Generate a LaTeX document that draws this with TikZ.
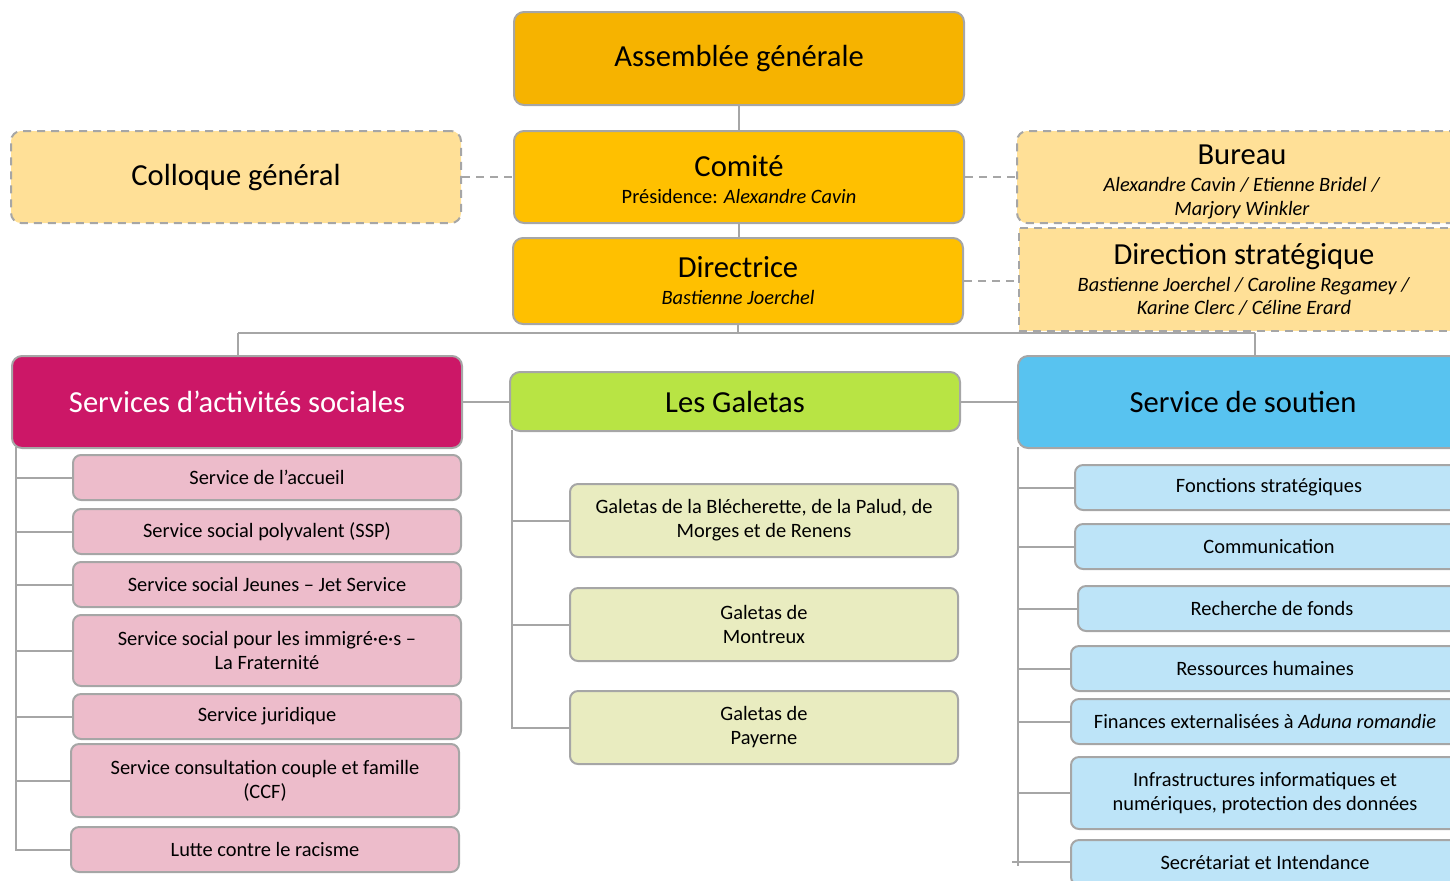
\documentclass[tikz,border=0pt]{standalone}
\usepackage{fontspec}
\setmainfont{Carlito}
\newcommand\orgbig{\fontsize{15.3}{18}\selectfont}
\newcommand\orgsmall{\fontsize{10.2}{12}\selectfont}
\definecolor{lineg}{HTML}{A6A6A6}
\definecolor{cag}{HTML}{F6B300}
\definecolor{ccom}{HTML}{FFC000}
\definecolor{cpale}{HTML}{FFE097}
\definecolor{csas}{HTML}{CC1767}
\definecolor{cgal}{HTML}{B8E444}
\definecolor{csou}{HTML}{58C3F0}
\definecolor{cpink}{HTML}{EDBCCB}
\definecolor{cgreen}{HTML}{E9ECC0}
\definecolor{cblue}{HTML}{BDE4F8}
\tikzset{
  bx/.style 2 args={minimum width=#1*0.5pt, minimum height=#2*0.5pt},
  base/.style={draw=lineg, line width=1pt, rounded corners=5pt, align=center,
    inner sep=0pt, anchor=north west, text=black},
  head/.style={base, font=\orgbig},
  headtwo/.style={base, font=\orgsmall},
  sub/.style={base, font=\orgsmall, rounded corners=4pt},
  dsh/.style={dash pattern=on 4pt off 3pt},
  link/.style={draw=lineg, line width=1pt},
  dlink/.style={link, dsh},
}
\begin{document}
\begin{tikzpicture}[x=0.5pt,y=-0.5pt]
\useasboundingbox (0,0) rectangle (1450,880);
\clip (0,0) rectangle (1450,880);
% top
\node[head, fill=cag, bx={450}{93}] (ag) at (513,11) {Assemblée générale};
\node[headtwo, fill=ccom, bx={450}{92}] (com) at (513,130)
  {{\orgbig\rule{0pt}{13.5pt}Comité}\\[1.5pt]Présidence: \textit{Alexandre Cavin}};
\node[headtwo, fill=ccom, bx={450}{86}] (dir) at (512,237)
  {{\orgbig Directrice}\\[1.5pt]\textit{Bastienne Joerchel}};
\node[head, fill=cpale, dsh, bx={450}{92}] (col) at (10,130) {Colloque général};
\node[headtwo, fill=cpale, dsh, bx={450}{92}] (bur) at (1016,130)
  {{\orgbig\rule{0pt}{15pt}Bureau}\\[1.5pt]\textit{Alexandre Cavin / Etienne Bridel /}\\\textit{Marjory Winkler}};
\node[headtwo, fill=cpale, dsh, sharp corners, bx={450}{103}] (dst) at (1018,227)
  {{\orgbig Direction stratégique}\\[1.5pt]\textit{Bastienne Joerchel / Caroline Regamey /}\\[-0.5pt]\textit{Karine Clerc / Céline Erard}};
% branches
\node[head, fill=csas, text=white, bx={450}{92}] (sas) at (11,355) {Services d’activités sociales};
\node[head, fill=cgal, bx={450}{59}] (gal) at (509,371) {Les Galetas};
\node[head, fill=csou, bx={450}{92}] (sou) at (1017,355) {Service de soutien};
% pink children
\node[sub, fill=cpink, bx={388}{45}] (s1) at (72,454) {Service de l’accueil};
\node[sub, fill=cpink, bx={388}{45}] (s2) at (72,508) {Service social polyvalent (SSP)};
\node[sub, fill=cpink, bx={388}{45}] (s3) at (72,561) {Service social Jeunes – Jet Service};
\node[sub, fill=cpink, bx={388}{71}] (s4) at (72,614) {Service social pour les immigré·e·s –\\La Fraternité};
\node[sub, fill=cpink, bx={388}{45}] (s5) at (72,693) {Service juridique};
\node[sub, fill=cpink, bx={388}{73}] (s6) at (70,743) {Service consultation couple et famille\\(CCF)};
\node[sub, fill=cpink, bx={388}{45}] (s7) at (70,826) {Lutte contre le racisme};
% green children
\node[sub, fill=cgreen, bx={388}{73}] (g1) at (569,483) {Galetas de la Blécherette, de la Palud, de\\Morges et de Renens};
\node[sub, fill=cgreen, bx={388}{73}] (g2) at (569,587) {Galetas de\\Montreux};
\node[sub, fill=cgreen, bx={388}{73}] (g3) at (569,690) {Galetas de\\Payerne};
% blue children
\node[sub, fill=cblue, bx={388}{45}] (b1) at (1074,464) {Fonctions stratégiques};
\node[sub, fill=cblue, bx={388}{45}] (b2) at (1074,523) {Communication};
\node[sub, fill=cblue, bx={388}{45}] (b3) at (1077,585) {Recherche de fonds};
\node[sub, fill=cblue, bx={388}{45}] (b4) at (1070,645) {Ressources humaines};
\node[sub, fill=cblue, bx={388}{45}] (b5) at (1070,698) {Finances externalisées à \textit{Aduna romandie}};
\node[sub, fill=cblue, bx={388}{72}] (b6) at (1070,756) {Infrastructures informatiques et\\numériques, protection des données};
\node[sub, fill=cblue, bx={388}{45}] (b7) at (1070,839) {Secrétariat et Intendance};
% connectors top
\draw[link] (ag.south) -- (com.north);
\draw[link] (com.south) -- (com.south |- dir.north);
\coordinate (bl) at (238,333);
\coordinate (br) at (1255,333);
\draw[link] (dir.south) -- (dir.south |- bl);
\draw[link] (bl) -- (br);
\draw[link] (bl) -- (bl |- sas.north);
\draw[link] (br) -- (br |- sou.north);
\draw[dlink] (col.east) -- (col.east -| com.west);
\draw[dlink] (com.east) -- (com.east -| bur.west);
\draw[dlink] (dir.east) -- (dir.east -| dst.west);
\draw[link] (sas.east) -- (sas.east -| gal.west);
\draw[link] (gal.east) -- (gal.east -| sou.west);
% left tree
\coordinate (lv) at (16,447);
\draw[link] (lv) |- (s7.west);
\foreach \n in {s1,s2,s3,s4,s5,s6} \draw[link] (\n.west) -- (\n.west -| lv);
% galetas tree
\coordinate (gv) at (512,430);
\draw[link] (gv) |- (g3.west);
\foreach \n in {g1,g2} \draw[link] (\n.west) -- (\n.west -| gv);
% soutien tree
\coordinate (sv) at (1018,447);
\coordinate (se) at (1012,862);
\draw[link] (sv) -- ([yshift=-2pt]sv |- se);
\draw[link] (se) -- (b7.west |- se);
\foreach \n in {b1,b2,b3,b4,b5,b6} \draw[link] (\n.west) -- (\n.west -| sv);
\end{tikzpicture}
\end{document}
